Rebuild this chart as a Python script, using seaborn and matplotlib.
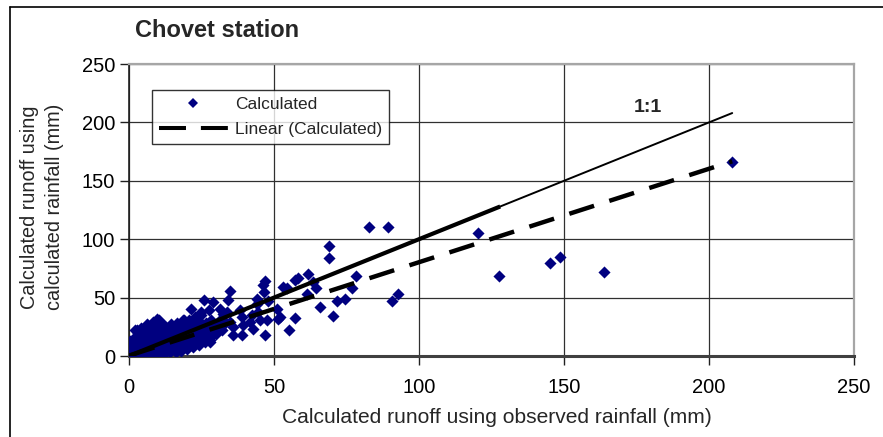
import matplotlib
matplotlib.use("Agg")
import matplotlib.pyplot as plt
from matplotlib.lines import Line2D
import seaborn as sns
import pandas as pd

# Runoff computed from observed rainfall (x) and from calculated rainfall (y), mm
obs_runoff_sparse = [
    208.0, 120.5, 127.6, 145.3, 148.5, 163.7, 82.9, 89.4, 69.1, 69.1,
    61.8, 58.4, 57.2, 54.6, 63.3, 64.5, 61.3, 78.3, 76.9, 65.9,
    71.6, 74.5, 70.2, 92.7, 90.8, 57.2, 55.3, 52.0, 46.9, 46.3,
    46.7, 44.0, 44.0, 48.0, 34.8, 34.2, 26.0, 29.1, 31.4, 33.7,
    32.5, 38.3, 42.3, 44.6, 50.9, 51.5, 47.5, 46.9, 42.9, 39.4,
    36.0, 38.8, 36.0, 41.7, 45.2, 27.9, 53.2, 21.3, 24.7, 27.6,
    9.8, 19.0, 2.9, 38.9, 34.8,
]
calc_runoff_sparse = [
    166.0, 105.7, 68.3, 79.7, 84.6, 71.7, 110.6, 110.6, 94.3, 84.3,
    70.0, 66.6, 65.4, 58.6, 63.4, 58.2, 53.4, 68.3, 58.2, 42.0,
    47.1, 49.1, 34.0, 53.4, 47.1, 32.5, 22.6, 33.4, 64.2, 60.5,
    54.8, 49.0, 44.8, 47.0, 55.4, 48.3, 47.7, 46.2, 40.6, 37.7,
    36.3, 39.1, 34.8, 37.7, 40.6, 32.0, 30.5, 17.7, 23.4, 26.2,
    24.8, 17.7, 17.7, 29.1, 30.5, 11.9, 59.0, 40.6, 37.7, 39.0,
    32.0, 30.5, 22.0, 33.4, 29.0,
]

# Dense group of small events near the origin
obs_runoff_small = [
    0.2, 0.5, 0.8, 0.3, 1.0, 0.6, 0.9, 0.4, 1.2, 0.7, 0.5,
    2.1, 2.6, 2.3, 2.9, 2.4, 2.0, 2.7, 2.5, 3.0, 2.2,
    4.1, 4.6, 4.3, 4.9, 4.4, 4.0, 4.7, 4.5, 5.0, 4.2,
    6.1, 6.6, 6.3, 6.9, 6.4, 6.0, 6.7, 6.5, 7.0, 6.2,
    8.1, 8.6, 8.3, 8.9, 8.4, 8.0, 8.7, 8.5, 9.0, 8.2,
    10.1, 10.6, 10.3, 10.9, 10.4, 10.0, 10.7, 10.5, 11.0, 10.2,
    12.1, 12.6, 12.3, 12.9, 12.4, 12.0, 12.7, 12.5,
    14.1, 14.6, 14.3, 14.9, 14.4, 14.0, 14.7, 14.5,
    16.1, 16.6, 16.3, 16.9, 16.4, 16.0, 16.7, 16.5,
    18.1, 18.6, 18.3, 18.9, 18.4, 18.0, 18.7, 18.5,
    20.1, 20.6, 20.3, 20.9, 20.4, 20.0, 20.7,
    22.1, 22.6, 22.3, 22.9, 22.4, 22.0, 22.7,
    24.1, 24.6, 24.3, 24.9, 24.4, 24.0, 24.7,
    26.1, 26.6, 26.3, 26.9, 26.4,
    28.1, 28.6, 28.3, 28.9, 28.4,
    30.1, 30.6, 30.3, 30.9,
    32.1, 32.6, 32.3,
]
calc_runoff_small = [
    0.0, 0.5, 1.0, 2.0, 3.0, 4.0, 5.0, 7.0, 9.0, 11.0, 13.0,
    0.0, 1.0, 3.0, 5.0, 8.0, 11.0, 14.0, 17.0, 20.0, 22.0,
    0.5, 2.0, 4.0, 7.0, 10.0, 13.0, 16.0, 19.0, 22.0, 24.0,
    1.0, 3.0, 6.0, 9.0, 12.0, 15.0, 18.0, 21.0, 25.0, 27.0,
    0.5, 2.0, 5.0, 8.0, 11.0, 14.0, 18.0, 22.0, 26.0, 29.0,
    1.0, 4.0, 7.0, 10.0, 14.0, 17.0, 21.0, 24.0, 28.0, 31.0,
    2.0, 5.0, 8.0, 12.0, 15.0, 19.0, 22.0, 26.0,
    3.0, 6.0, 9.0, 13.0, 17.0, 20.0, 24.0, 27.0,
    3.0, 7.0, 10.0, 14.0, 18.0, 22.0, 26.0, 28.0,
    4.0, 8.0, 12.0, 16.0, 20.0, 24.0, 29.0, 31.0,
    6.0, 10.0, 14.0, 18.0, 22.0, 26.0, 31.0,
    8.0, 11.0, 15.0, 19.0, 24.0, 28.0, 33.0,
    9.0, 13.0, 17.0, 21.0, 26.0, 30.0, 35.0,
    12.0, 16.0, 20.0, 24.0, 28.0,
    14.0, 18.0, 23.0, 27.0, 31.0,
    19.0, 22.0, 26.0, 30.0,
    22.0, 27.0, 31.0,
]

# Linear trend of the calculated series and the 1:1 reference
trend_slope = 0.80
trend_intercept = 0.3
one_to_one_bold_end = 128.0

x_ticks = [0, 50, 100, 150, 200, 250]
y_ticks = [0, 50, 100, 150, 200, 250]

df = pd.DataFrame({
    "observed": obs_runoff_small + obs_runoff_sparse,
    "calculated": calc_runoff_small + calc_runoff_sparse,
})

sns.set_theme(style="white")
plt.rcParams["font.family"] = ["Liberation Sans", "DejaVu Sans"]

W, H = 883, 437
fig = plt.figure(figsize=(W / 100, H / 100), dpi=100)
ax = fig.add_axes([129 / W, 1 - 356 / H, 725 / W, 292 / H])

navy = "#000080"
sns.scatterplot(data=df, x="observed", y="calculated", ax=ax, marker="D",
                s=38, color=navy, linewidth=0, zorder=3, legend=False)

x_lo, x_hi = df["observed"].min(), df["observed"].max()
trend = pd.DataFrame({"x": [x_lo, x_hi]})
trend["y"] = trend_slope * trend["x"] + trend_intercept
sns.lineplot(data=trend, x="x", y="y", ax=ax, color="black", lw=3.2,
             linestyle=(0, (5.85, 3.6)), solid_capstyle="butt",
             dash_capstyle="butt", zorder=4)

ref = pd.DataFrame({"x": [0.0, x_hi]})
sns.lineplot(data=ref, x="x", y="x", ax=ax, color="black", lw=1.4, zorder=4)
ref_bold = pd.DataFrame({"x": [0.0, one_to_one_bold_end]})
sns.lineplot(data=ref_bold, x="x", y="x", ax=ax, color="black", lw=3.0,
             solid_capstyle="butt", zorder=4)

ax.text(179, 213, "1:1", fontsize=14, fontweight="bold", ha="center",
        va="center", zorder=5)

ax.set_xlim(0, 250)
ax.set_ylim(0, 250)
ax.set_xticks(x_ticks)
ax.set_yticks(y_ticks)
ax.set_xlabel("")
ax.set_ylabel("")
ax.grid(True, color="#303030", lw=0.9)
ax.set_axisbelow(True)
ax.tick_params(axis="both", bottom=True, left=True, direction="out",
               length=6.5, width=1, color="#202020", labelsize=14.5,
               labelcolor="black")
ax.tick_params(axis="x", pad=9)
ax.tick_params(axis="y", pad=3.5)

for side in ("top", "right"):
    ax.spines[side].set_color("#a6a6a6")
    ax.spines[side].set_linewidth(1.6)
ax.spines["bottom"].set_color("#404040")
ax.spines["bottom"].set_linewidth(2.2)
ax.spines["left"].set_color("#202020")
ax.spines["left"].set_linewidth(1.2)

handles = [
    Line2D([], [], marker="D", color=navy, ls="none", markersize=5.4,
           markeredgewidth=0),
    Line2D([], [], color="black", lw=2.9, ls=(0, (6.7, 3.7)),
           dash_capstyle="butt"),
]
leg = ax.legend(handles, ["Calculated", "Linear (Calculated)"],
                loc="upper left", bbox_to_anchor=(0.0317, 0.911),
                borderaxespad=0, fontsize=12.5, frameon=True, fancybox=False,
                edgecolor="black", handlelength=4.0, handletextpad=0.4,
                borderpad=0.38, labelspacing=0.6)
leg.get_frame().set_linewidth(1.0)
leg.set_zorder(6)

fig.text(135 / W, 1 - 37 / H, "Chovet station", fontsize=17,
         fontweight="bold", ha="left", va="baseline")
fig.text(497 / W, 1 - 423 / H, "Calculated runoff using observed rainfall (mm)",
         fontsize=15.1, ha="center", va="baseline")
fig.text(42 / W, 1 - 207 / H, "Calculated runoff using\ncalculated rainfall (mm)",
         fontsize=14.3, rotation=90, ha="center", va="center",
         linespacing=1.45, multialignment="center")

# Frame edges around the chart area
fig.add_artist(Line2D([9.5 / W, 9.5 / W], [0, 1 - 7 / H],
                      transform=fig.transFigure, color="black", lw=1.2))
fig.add_artist(Line2D([9.5 / W, 1], [1 - 7 / H, 1 - 7 / H],
                      transform=fig.transFigure, color="black", lw=1.2))

fig.savefig("out.png", dpi=100)
